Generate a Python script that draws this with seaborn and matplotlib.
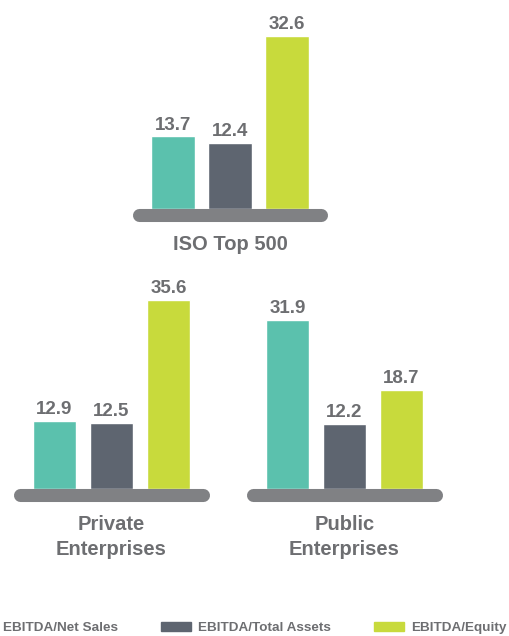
import numpy as np
import pandas as pd
import matplotlib
matplotlib.use('Agg')
import matplotlib.pyplot as plt
import matplotlib.patches as mpatches
import seaborn as sns

metrics = ['EBITDA/Net Sales', 'EBITDA/Total Assets', 'EBITDA/Equity']
groups = ['ISO Top 500', 'Private\nEnterprises', 'Public\nEnterprises']
iso_values = [13.7, 12.4, 32.6]
private_values = [12.9, 12.5, 35.6]
public_values = [31.9, 12.2, 18.7]

colors = ['#5BC1AD', '#5E6570', '#C8DA3C']
base_gray = '#808184'
text_gray = '#6D6E71'

data = pd.DataFrame({
    'group': np.repeat(groups, 3),
    'metric': metrics * 3,
    'value': iso_values + private_values + public_values,
})

sns.set_theme(style='white')
plt.rcParams['font.family'] = ['Liberation Sans', 'DejaVu Sans']

W, H = 509, 636
fig = plt.figure(figsize=(W / 100, H / 100), dpi=100)

# axes boxes in pixels: left, bottom(from top), width, height
boxes = [(132, 209, 196, 191), (13, 489, 197, 191), (246, 489, 197, 191)]

palette = dict(zip(metrics, colors))
for g, (x0, yb, w, h) in zip(groups, boxes):
    ax = fig.add_axes([x0 / W, 1 - yb / H, w / W, h / H])
    sub = data[data['group'] == g]
    sns.barplot(data=sub, x='metric', y='value', hue='metric', order=metrics,
                hue_order=metrics, palette=palette, width=0.77, legend=False,
                saturation=1, ax=ax)
    ax.set_xlim(1 - w / 57 / 2, 1 + w / 57 / 2)
    ax.set_ylim(0, 36)
    for c in ax.containers:
        ax.bar_label(c, fmt='%.1f', padding=2, fontsize=13.5, fontweight='bold',
                     color=text_gray)
    # rounded grey base
    ax.plot([0.035, 0.965], [-0.034, -0.034], transform=ax.transAxes,
            color=base_gray, lw=9.4, solid_capstyle='round', clip_on=False)
    ax.set_xticks([])
    ax.set_yticks([])
    ax.set_xlabel(g, fontsize=14.5, fontweight='bold', color=text_gray,
                  labelpad=19, linespacing=1.4)
    ax.set_ylabel('')
    sns.despine(ax=ax, left=True, bottom=True)

handles = [mpatches.Patch(color=c, label=m) for c, m in zip(colors, metrics)]
fig.legend(handles=handles, loc='center left', bbox_to_anchor=(-34 / W, 1 - 628 / H),
           ncol=3, frameon=False, handlelength=2.2, handleheight=0.6,
           handletextpad=0.55, columnspacing=3.2, borderpad=0, borderaxespad=0,
           labelcolor=text_gray, prop={'weight': 'bold', 'size': 9.7})

fig.savefig('out.png', dpi=100)
